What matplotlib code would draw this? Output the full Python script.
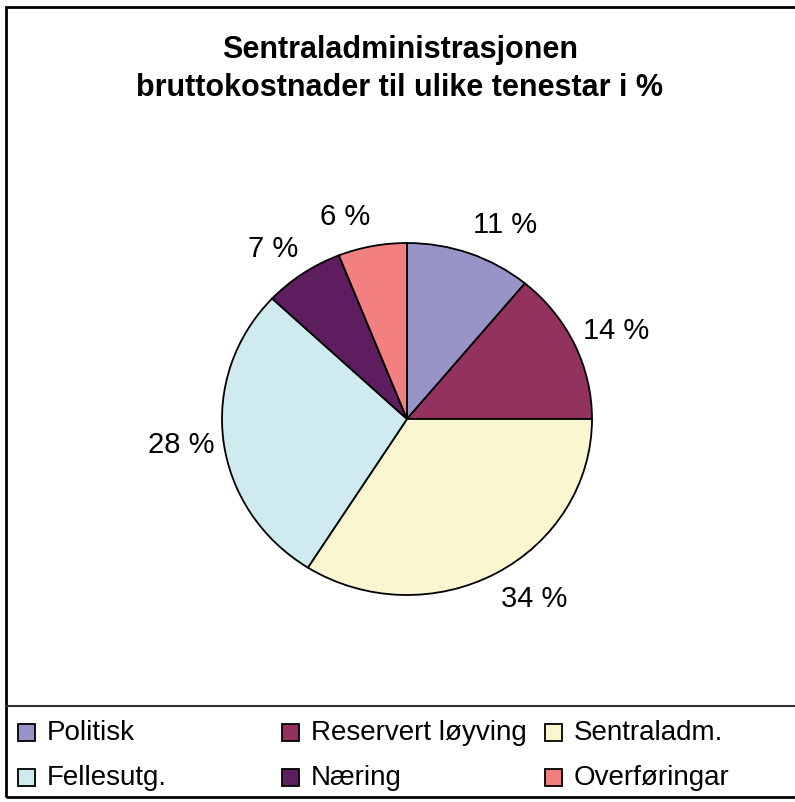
import numpy as np
import matplotlib.pyplot as plt
from matplotlib.patches import Rectangle
from matplotlib.lines import Line2D

labels = ["Politisk", "Reservert løyving", "Sentraladm.", "Fellesutg.", "Næring", "Overføringar"]
shares = [11, 14, 34, 28, 7, 6]
colors = ["#9894C8", "#93325F", "#FAF7D0", "#CFEBF0", "#5E1D5E", "#F28080"]
title = "Sentraladministrasjonen\nbruttokostnader til ulike tenestar i %"

plt.rcParams['font.family'] = ['Liberation Sans', 'DejaVu Sans']

W, H = 795, 802
fig = plt.figure(figsize=(W / 100, H / 100), dpi=100)

# pie axes: centre (407, 419) px, slightly squashed like the excel original
rx, ry = 185, 176
ax = fig.add_axes([(407 - 1.5 * rx) / W, (H - 419 - 1.5 * ry) / H, 3 * rx / W, 3 * ry / H])
wedges, _ = ax.pie(shares, colors=colors, startangle=90, counterclock=False,
                   wedgeprops=dict(edgecolor="black", linewidth=1.3))

# excel-like outside labels
for w, v in zip(wedges, shares):
    ang = np.deg2rad((w.theta1 + w.theta2) / 2)
    dx, dy = np.cos(ang), np.sin(ang)
    ha = "left" if dx > 0 else "right"
    ax.text(1.05 * dx, 1.17 * dy, f"{v} %", ha=ha, va="center", fontsize=21)

ax.set_xlim(-1.5, 1.5)
ax.set_ylim(-1.5, 1.5)
ax.set_aspect("auto")
ax.axis("off")

fig.text(0.503, 1 - 69 / H, title, ha="center", va="center", fontsize=22,
         fontweight="bold", linespacing=1.32)

# outer frame and legend box
fig.add_artist(Rectangle((6 / W, 1 - 797 / H), 1.0, (797 - 7) / H, transform=fig.transFigure,
                         fill=False, edgecolor="black", linewidth=2, clip_on=False))
fig.add_artist(Line2D([6 / W, 1.0], [1 - 706 / H] * 2, transform=fig.transFigure,
                      color="#333333", linewidth=1.5))

# legend, 3 columns x 2 rows
col_x = [18, 282, 545]
row_y = [732, 777]
sq = 17
for i, (lab, c) in enumerate(zip(labels, colors)):
    x = col_x[i % 3]
    y = row_y[i // 3]
    fig.add_artist(Rectangle((x / W, 1 - (y + sq / 2) / H), sq / W, sq / H,
                             transform=fig.transFigure, facecolor=c,
                             edgecolor="black", linewidth=1.3))
    fig.text((x + 29) / W, 1 - (y + 1) / H, lab, ha="left", va="center", fontsize=20)

fig.savefig("out.png", dpi=100)
